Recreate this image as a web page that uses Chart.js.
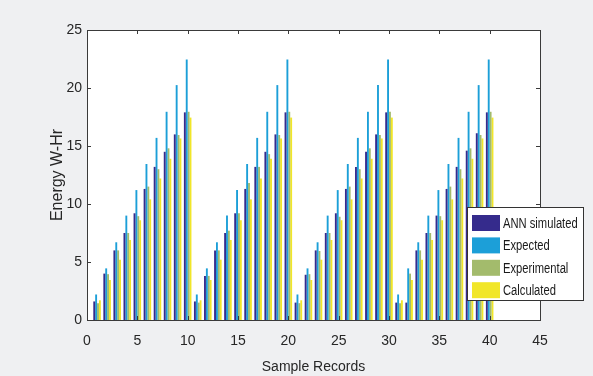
<!DOCTYPE html>
<html>
<head>
<meta charset="utf-8">
<script src="https://cdn.jsdelivr.net/npm/chart.js@4"></script>
<style>
  html, body { margin: 0; padding: 0; background: #eff0f2; }
  #wrap { width: 593px; height: 376px; }
</style>
</head>
<body>
<div id="wrap"><canvas id="myChart" width="593" height="376"></canvas></div>
<script>
// sample record numbers 1..40
let records = [1,2,3,4,5,6,7,8,9,10,11,12,13,14,15,16,17,18,19,20,
               21,22,23,24,25,26,27,28,29,30,31,32,33,34,35,36,37,38,39,40];

let annSimulated = [1.6, 4.0, 6.0, 7.5, 9.2, 11.3, 13.2, 14.5, 16.0, 17.9,
                    1.6, 3.8, 6.0, 7.5, 9.2, 11.3, 13.2, 14.5, 16.0, 17.9,
                    1.5, 3.9, 6.0, 7.5, 9.2, 11.3, 13.2, 14.5, 16.0, 17.9,
                    1.5, 1.5, 6.0, 7.5, 9.0, 11.3, 13.2, 14.6, 16.1, 17.9];

let expected = [2.2, 4.45, 6.7, 9.0, 11.2, 13.45, 15.7, 17.95, 20.25, 22.45,
                2.2, 4.45, 6.7, 9.0, 11.2, 13.45, 15.7, 17.95, 20.25, 22.45,
                2.2, 4.45, 6.7, 9.0, 11.2, 13.45, 15.7, 17.95, 20.25, 22.45,
                2.2, 4.45, 6.7, 9.0, 11.2, 13.45, 15.7, 17.95, 20.25, 22.45];

let experimental = [1.45, 3.95, 6.0, 7.5, 8.95, 11.5, 13.0, 14.8, 15.95, 17.95,
                    1.5, 3.8, 6.0, 7.7, 9.2, 11.8, 13.2, 14.3, 15.95, 17.95,
                    1.45, 3.95, 5.95, 7.5, 8.9, 11.5, 13.0, 14.8, 15.95, 17.95,
                    1.45, 4.0, 6.0, 7.5, 8.95, 11.5, 13.0, 14.8, 15.95, 17.95];

let calculated = [1.7, 3.45, 5.2, 6.9, 8.6, 10.4, 12.2, 13.9, 15.65, 17.45,
                  1.7, 3.45, 5.2, 6.9, 8.6, 10.4, 12.2, 13.9, 15.65, 17.45,
                  1.7, 3.45, 5.2, 6.9, 8.6, 10.4, 12.2, 13.9, 15.65, 17.45,
                  1.7, 3.45, 5.2, 6.9, 8.6, 10.4, 12.2, 13.9, 15.65, 17.45];

let seriesNames = ['ANN simulated', 'Expected', 'Experimental', 'Calculated'];
let seriesColors = ['#352b8c', '#1c9fd8', '#a3bb6c', '#f1e628'];

let xTicks = [0, 5, 10, 15, 20, 25, 30, 35, 40, 45];
let yTicks = [0, 5, 10, 15, 20, 25];

const FONT = "'Liberation Sans', Arial, sans-serif";

function points(values){
    return records.map((r, i) => ({x: r, y: values[i]}));
}

// white plot area, box with inward ticks, legend
const matlabAxes = {
    id: 'matlabAxes',
    beforeDatasetsDraw(chart){
        let a = chart.chartArea;
        let ctx = chart.ctx;
        ctx.save();
        ctx.fillStyle = '#ffffff';
        ctx.fillRect(a.left, a.top, a.right - a.left, a.bottom - a.top);
        ctx.restore();
    },
    afterDatasetsDraw(chart){
        let a = chart.chartArea;
        let ctx = chart.ctx;
        let xs = chart.scales.x, ys = chart.scales.y;
        ctx.save();
        ctx.strokeStyle = '#3a3a3a';
        ctx.lineWidth = 1;
        ctx.beginPath();
        xTicks.forEach(t => {
            let px = Math.round(xs.getPixelForValue(t)) + 0.5;
            ctx.moveTo(px, a.bottom); ctx.lineTo(px, a.bottom - 4);
            ctx.moveTo(px, a.top); ctx.lineTo(px, a.top + 4);
        });
        yTicks.forEach(t => {
            let py = Math.round(ys.getPixelForValue(t)) + 0.5;
            ctx.moveTo(a.left, py); ctx.lineTo(a.left + 4, py);
            ctx.moveTo(a.right, py); ctx.lineTo(a.right - 4, py);
        });
        ctx.stroke();
        ctx.strokeRect(Math.round(a.left) + 0.5, Math.round(a.top) + 0.5,
                       Math.round(a.right - a.left), Math.round(a.bottom - a.top));

        // legend box
        let lx = 467, ly = 207, lw = 116, lh = 93;
        ctx.fillStyle = '#ffffff';
        ctx.fillRect(lx, ly, lw, lh);
        ctx.strokeStyle = '#333333';
        ctx.strokeRect(lx + 0.5, ly + 0.5, lw, lh);
        ctx.font = '14px ' + FONT;
        ctx.textBaseline = 'middle';
        ctx.textAlign = 'left';
        chart.data.datasets.forEach((ds, i) => {
            let cy = ly + 16 + i * 22.4;
            ctx.fillStyle = ds.backgroundColor;
            ctx.fillRect(lx + 5, cy - 8, 28, 16);
            ctx.fillStyle = '#1a1a1a';
            // narrow lettering like the original
            ctx.save();
            ctx.translate(lx + 36, cy + 1);
            ctx.scale(0.8, 1);
            ctx.fillText(ds.label, 0, 0);
            ctx.restore();
        });
        ctx.restore();
    }
};

let ctx = document.getElementById('myChart');
let myChart = new Chart(ctx, {
    type: 'bar',
    data: {
        datasets: [annSimulated, expected, experimental, calculated].map((vals, i) => ({
            label: seriesNames[i],
            data: points(vals),
            backgroundColor: seriesColors[i],
            borderWidth: 0,
            categoryPercentage: 0.75,
            barPercentage: 1.0
        }))
    },
    options: {
        responsive: false,
        animation: false,
        layout: { padding: { top: 30, right: 53, left: 0, bottom: 0 } },
        plugins: {
            legend: { display: false },
            tooltip: { enabled: false }
        },
        scales: {
            x: {
                type: 'linear',
                min: 0, max: 45,
                offset: false,
                grid: { display: false, drawTicks: false },
                border: { display: false },
                afterBuildTicks: scale => { scale.ticks = xTicks.map(v => ({value: v})); },
                afterFit: scale => { scale.height = 56; },
                ticks: { color: '#262626', padding: 13, maxRotation: 0,
                         font: { family: FONT, size: 14 } },
                title: { display: true, text: 'Sample Records', color: '#262626',
                         padding: { top: 2, bottom: 0 },
                         font: { family: FONT, size: 14 } }
            },
            y: {
                min: 0, max: 25,
                grid: { display: false, drawTicks: false },
                border: { display: false },
                afterBuildTicks: scale => { scale.ticks = yTicks.map(v => ({value: v})); },
                afterFit: scale => { scale.width = 87; },
                ticks: { color: '#262626', padding: 5,
                         font: { family: FONT, size: 14 } },
                title: { display: true, text: 'Energy W-Hr', color: '#262626',
                         padding: { top: 48, bottom: 0 },
                         font: { family: FONT, size: 16 } }
            }
        }
    },
    plugins: [matlabAxes]
});
</script>
</body>
</html>
